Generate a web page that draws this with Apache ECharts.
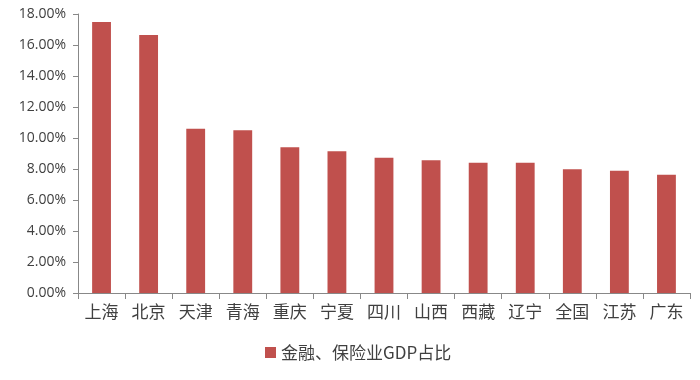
<!DOCTYPE html>
<html><head><meta charset="utf-8">
<script src="https://cdn.jsdelivr.net/npm/echarts@6/dist/echarts.min.js"></script>
<style>html,body{margin:0;padding:0;background:#fff}#c{width:700px;height:380px}</style>
</head><body><div id="c"></div>
<script>
const categories = ['上海','北京','天津','青海','重庆','宁夏','四川','山西','西藏','辽宁','全国','江苏','广东'];
const seriesName = '金融、保险业GDP占比';
const values = [17.48, 16.65, 10.6, 10.5, 9.4, 9.15, 8.73, 8.56, 8.41, 8.41, 7.98, 7.89, 7.63];

const chart = echarts.init(document.getElementById('c'));
const font = '"Noto Sans CJK SC","Open Sans",sans-serif';
chart.setOption({
  animation: false,
  grid: {left: 78, right: 10, top: 14, bottom: 87, containLabel: false},
  legend: {
    bottom: 14, left: 260, itemWidth: 11, itemHeight: 11, itemGap: 8,
    icon: 'rect',
    textStyle: {fontFamily: font, fontSize: 17, color: '#404040'},
    data: [seriesName]
  },
  xAxis: {
    type: 'category', data: categories, boundaryGap: true,
    axisLine: {lineStyle: {color: '#888', width: 1}},
    axisTick: {show: true, alignWithLabel: false, length: 6, lineStyle: {color: '#888'}},
    axisLabel: {fontFamily: font, fontSize: 17, color: '#404040', margin: 10}
  },
  yAxis: {
    type: 'value', min: 0, max: 18, interval: 2,
    splitLine: {show: false},
    axisLine: {show: true, lineStyle: {color: '#888', width: 1}},
    axisTick: {show: true, length: 5, lineStyle: {color: '#888'}},
    axisLabel: {fontFamily: '"Open Sans",sans-serif', fontSize: 14, color: '#404040', margin: 12,
      formatter: v => v.toFixed(2) + '%'}
  },
  series: [{
    name: seriesName, type: 'bar', data: values, barWidth: '40%',
    itemStyle: {color: '#c0504d'}
  }]
});
</script></body></html>
